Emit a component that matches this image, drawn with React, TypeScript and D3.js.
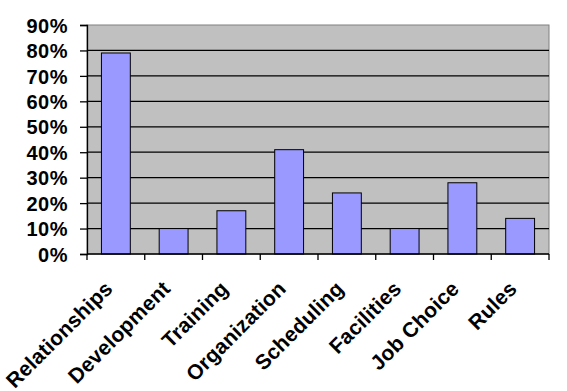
import React, { useEffect, useRef } from 'react'
import * as d3 from 'd3'

const categories = [
  'Relationships',
  'Development',
  'Training',
  'Organization',
  'Scheduling',
  'Facilities',
  'Job Choice',
  'Rules',
]
const values = [79, 10, 17, 41, 24, 10, 28, 14]
const yTicks = [0, 10, 20, 30, 40, 50, 60, 70, 80, 90]

const W = 567
const H = 391

const App = () => {
  const svgRef = useRef<SVGSVGElement>(null)

  useEffect(() => {
    const svg = d3.select(svgRef.current)
    svg.selectAll('*').remove()

    const margin = { top: 25, right: 18, bottom: 137, left: 87 }
    const w = W - margin.left - margin.right
    const h = H - margin.top - margin.bottom

    const x = d3.scaleBand().domain(categories).range([0, w]).paddingInner(0.5).paddingOuter(0.25)
    const xOuter = d3.scaleBand().domain(categories).range([0, w])
    const y = d3.scaleLinear().domain([0, 90]).range([h, 0])

    const g = svg.append('g').attr('transform', `translate(${margin.left},${margin.top})`)

    // plot area
    g.append('rect')
      .attr('width', w)
      .attr('height', h)
      .attr('fill', '#C0C0C0')
      .attr('stroke', '#808080')
      .attr('stroke-width', 1)

    // gridlines
    g.selectAll('line.grid')
      .data(yTicks.filter((d) => d > 0 && d < 90))
      .enter()
      .append('line')
      .attr('x1', 0)
      .attr('x2', w)
      .attr('y1', (d) => y(d))
      .attr('y2', (d) => y(d))
      .attr('stroke', '#000')
      .attr('stroke-width', 1.3)

    // bars
    g.selectAll('rect.bar')
      .data(values)
      .enter()
      .append('rect')
      .attr('x', (d, i) => x(categories[i]) as number)
      .attr('y', (d) => y(d))
      .attr('width', x.bandwidth())
      .attr('height', (d) => h - y(d))
      .attr('fill', '#9999FF')
      .attr('stroke', '#000')
      .attr('stroke-width', 1)

    // y axis
    const yAxis = d3
      .axisLeft(y)
      .tickValues(yTicks)
      .tickSize(7)
      .tickFormat((d) => `${d}%`)
    const yg = g.append('g').call(yAxis)
    yg.select('.domain').attr('stroke', '#000').attr('stroke-width', 1.3)
    yg.selectAll('.tick line').attr('stroke', '#000').attr('stroke-width', 1.3)
    yg.selectAll('.tick text')
      .attr('x', -19)
      .attr('dy', '0.36em')
      .style('font-family', 'Arial, "Liberation Sans", sans-serif')
      .style('font-weight', 'bold')
      .style('font-size', '20px')
      .style('letter-spacing', '0.5px')
      .attr('fill', '#000')

    // x axis line and ticks at category boundaries
    g.append('line')
      .attr('x1', 0)
      .attr('x2', w)
      .attr('y1', h)
      .attr('y2', h)
      .attr('stroke', '#000')
      .attr('stroke-width', 1.3)
    const bounds = categories.map((c) => xOuter(c) as number).concat([w])
    g.selectAll('line.xtick')
      .data(bounds)
      .enter()
      .append('line')
      .attr('x1', (d) => d)
      .attr('x2', (d) => d)
      .attr('y1', h)
      .attr('y2', h + 6)
      .attr('stroke', '#000')
      .attr('stroke-width', 1.3)

    // x labels, rotated 45 degrees
    g.selectAll('text.xlab')
      .data(categories)
      .enter()
      .append('text')
      .attr(
        'transform',
        (d) => `translate(${(x(d) as number) + x.bandwidth() / 2 - 2},${h + 36}) rotate(-45)`
      )
      .attr('text-anchor', 'end')
      .style('font-family', 'Arial, "Liberation Sans", sans-serif')
      .style('font-weight', 'bold')
      .style('font-size', '21px')
      .style('letter-spacing', '0.2px')
      .attr('fill', '#000')
      .text((d) => d)
  }, [])

  return (
    <div style={{ position: 'absolute', left: 0, top: 0 }}>
      <svg ref={svgRef} width={W} height={H} style={{ display: 'block', background: '#fff' }}></svg>
    </div>
  )
}

export default App
